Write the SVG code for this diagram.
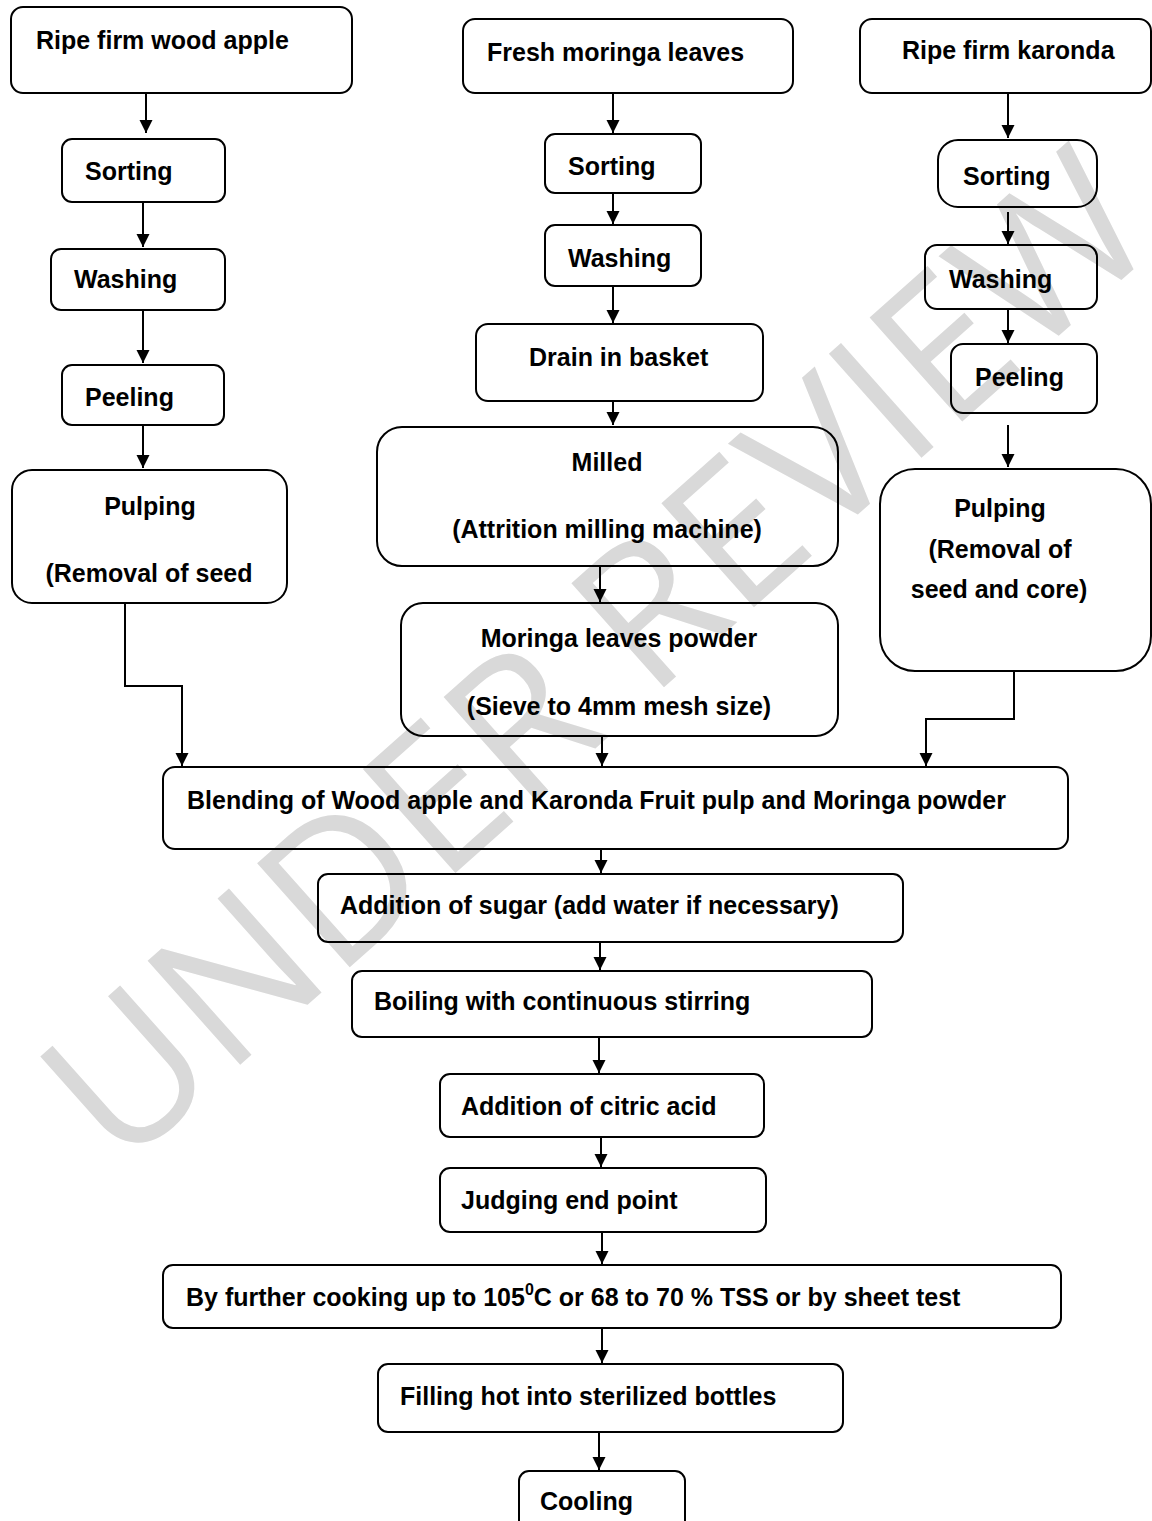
<svg xmlns="http://www.w3.org/2000/svg" width="1152" height="1521" viewBox="0 0 1152 1521">
<defs>
<style>
.box{fill:none;stroke:#000;stroke-width:2}
.t{font-family:"Liberation Sans",Arial,sans-serif;font-weight:bold;font-size:25px;fill:#000}
.m{text-anchor:middle}
.c{fill:none;stroke:#000;stroke-width:2}
.wm{font-family:"Open Sans","Liberation Sans",sans-serif;font-weight:400;font-size:195px;fill:#d9d9d9;text-anchor:middle}
</style>
<marker id="ah" markerUnits="userSpaceOnUse" viewBox="0 0 14 14" markerWidth="14" markerHeight="14" refX="13" refY="7" orient="auto">
<path d="M0,0.5 L13,7 L0,13.5 z" fill="#000"/>
</marker>
</defs>
<rect width="1152" height="1521" fill="#fff"/>
<g id="watermark">
<text class="wm" transform="translate(595,655) rotate(-41.7)" x="0" y="70">UNDER REVIEW</text>
</g>
<g id="connectors">
<path class="c" d="M146,93 V133" marker-end="url(#ah)"/>
<path class="c" d="M143,203 V247" marker-end="url(#ah)"/>
<path class="c" d="M143,310 V363" marker-end="url(#ah)"/>
<path class="c" d="M143,425 V468" marker-end="url(#ah)"/>
<path class="c" d="M125,603 V686 H182 V766" marker-end="url(#ah)"/>
<path class="c" d="M613,93 V133" marker-end="url(#ah)"/>
<path class="c" d="M613,193 V224" marker-end="url(#ah)"/>
<path class="c" d="M613,286 V323" marker-end="url(#ah)"/>
<path class="c" d="M613,401 V425" marker-end="url(#ah)"/>
<path class="c" d="M600,566 V602" marker-end="url(#ah)"/>
<path class="c" d="M602,736 V766" marker-end="url(#ah)"/>
<path class="c" d="M1008,93 V138" marker-end="url(#ah)"/>
<path class="c" d="M1008,212 V244" marker-end="url(#ah)"/>
<path class="c" d="M1008,309 V343" marker-end="url(#ah)"/>
<path class="c" d="M1008,425 V467" marker-end="url(#ah)"/>
<path class="c" d="M1014,671 V719 H926 V766" marker-end="url(#ah)"/>
<path class="c" d="M601,849 V873" marker-end="url(#ah)"/>
<path class="c" d="M600,942 V970" marker-end="url(#ah)"/>
<path class="c" d="M599,1037 V1073" marker-end="url(#ah)"/>
<path class="c" d="M601,1137 V1167" marker-end="url(#ah)"/>
<path class="c" d="M602,1232 V1264" marker-end="url(#ah)"/>
<path class="c" d="M602,1328 V1363" marker-end="url(#ah)"/>
<path class="c" d="M599,1432 V1470" marker-end="url(#ah)"/>
</g>
<g id="n1"><rect class="box" x="11" y="7" width="341" height="86" rx="12"/><text class="t" x="36" y="49">Ripe firm wood apple</text></g>
<g id="n2"><rect class="box" x="62" y="139" width="163" height="63" rx="10"/><text class="t" x="85" y="180">Sorting</text></g>
<g id="n3"><rect class="box" x="51" y="249" width="174" height="61" rx="10"/><text class="t" x="74" y="288">Washing</text></g>
<g id="n4"><rect class="box" x="62" y="365" width="162" height="60" rx="10"/><text class="t" x="85" y="406">Peeling</text></g>
<g id="n5"><rect class="box" x="12" y="470" width="275" height="133" rx="20"/><text class="t m" x="150" y="515">Pulping</text><text class="t m" x="149" y="582">(Removal of seed</text></g>
<g id="n6"><rect class="box" x="463" y="19" width="330" height="74" rx="12"/><text class="t" x="487" y="61">Fresh moringa leaves</text></g>
<g id="n7"><rect class="box" x="545" y="134" width="156" height="59" rx="10"/><text class="t" x="568" y="175">Sorting</text></g>
<g id="n8"><rect class="box" x="545" y="225" width="156" height="61" rx="10"/><text class="t" x="568" y="267">Washing</text></g>
<g id="n9"><rect class="box" x="476" y="324" width="287" height="77" rx="12"/><text class="t" x="529" y="366">Drain in basket</text></g>
<g id="n10"><rect class="box" x="377" y="427" width="461" height="139" rx="25"/><text class="t m" x="607" y="471">Milled</text><text class="t m" x="607" y="538">(Attrition milling machine)</text></g>
<g id="n11"><rect class="box" x="401" y="603" width="437" height="133" rx="22"/><text class="t m" x="619" y="647">Moringa leaves powder</text><text class="t m" x="619" y="715">(Sieve to 4mm mesh size)</text></g>
<g id="n12"><rect class="box" x="860" y="19" width="291" height="74" rx="12"/><text class="t" x="902" y="59">Ripe firm karonda</text></g>
<g id="n13"><rect class="box" x="938" y="140" width="159" height="67" rx="20"/><text class="t" x="963" y="185">Sorting</text></g>
<g id="n14"><rect class="box" x="925" y="245" width="172" height="64" rx="12"/><text class="t" x="949" y="288">Washing</text></g>
<g id="n15"><rect class="box" x="951" y="344" width="146" height="69" rx="12"/><text class="t" x="975" y="386">Peeling</text></g>
<g id="n16"><rect class="box" x="880" y="469" width="271" height="202" rx="35"/><text class="t m" x="1000" y="517">Pulping</text><text class="t m" x="1000" y="558">(Removal of</text><text class="t m" x="999" y="598">seed and core)</text></g>
<g id="n17"><rect class="box" x="163" y="767" width="905" height="82" rx="12"/><text class="t" x="187" y="809">Blending of Wood apple and Karonda Fruit pulp and Moringa powder</text></g>
<g id="n18"><rect class="box" x="318" y="874" width="585" height="68" rx="10"/><text class="t" x="340" y="914">Addition of sugar (add water if necessary)</text></g>
<g id="n19"><rect class="box" x="352" y="971" width="520" height="66" rx="10"/><text class="t" x="374" y="1010">Boiling with continuous stirring</text></g>
<g id="n20"><rect class="box" x="440" y="1074" width="324" height="63" rx="10"/><text class="t" x="461" y="1115">Addition of citric acid</text></g>
<g id="n21"><rect class="box" x="440" y="1168" width="326" height="64" rx="10"/><text class="t" x="461" y="1209">Judging end point</text></g>
<g id="n22"><rect class="box" x="163" y="1265" width="898" height="63" rx="10"/><text class="t" x="186" y="1306">By further cooking up to 105<tspan font-size="16" dy="-11">0</tspan><tspan dy="11">C or 68 to 70 % TSS or by sheet test</tspan></text></g>
<g id="n23"><rect class="box" x="378" y="1364" width="465" height="68" rx="10"/><text class="t" x="400" y="1405">Filling hot into sterilized bottles</text></g>
<g id="n24"><rect class="box" x="519" y="1471" width="166" height="62" rx="10"/><text class="t" x="540" y="1510">Cooling</text></g>
</svg>
